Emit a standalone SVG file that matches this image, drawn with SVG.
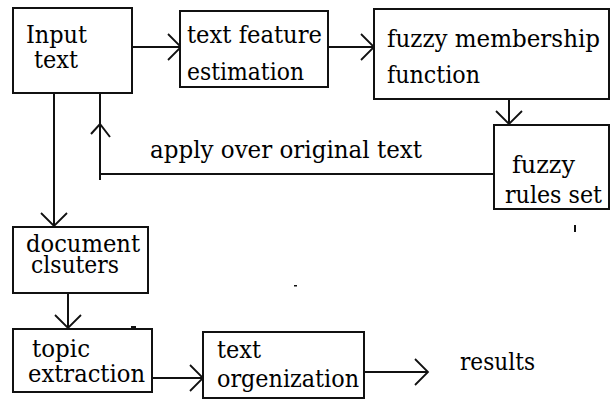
<svg xmlns="http://www.w3.org/2000/svg" width="610" height="400" viewBox="0 0 610 400">
<defs>
<style>
.box{fill:#fff;stroke:#111;stroke-width:2}
.t{font-family:'DejaVu Serif','Noto Serif',Tinos,'Liberation Serif',serif;font-size:24px;fill:#000}
.c{fill:none;stroke:#111;stroke-width:2}
</style>
<marker id="open" markerUnits="userSpaceOnUse" markerWidth="40" markerHeight="40" viewBox="-20 -20 40 40" refX="0" refY="0" orient="auto">
<path d="M-13,-13 L0,0 L-13,13" fill="none" stroke="#111" stroke-width="1.8"/>
</marker>
</defs>
<rect width="610" height="400" fill="#fff"/>
<g id="connectors">
<path class="c" d="M132,47 H181" marker-end="url(#open)"/>
<path class="c" d="M328,47 H374" marker-end="url(#open)"/>
<path class="c" d="M509,99 V124" marker-end="url(#open)"/>
<path class="c" d="M494,174 H100"/>
<path class="c" d="M100,180 V93"/>
<path class="c" d="M91,134 L100,124 L110,137" stroke-width="1.8"/>
<path class="c" d="M54,93 V226" marker-end="url(#open)"/>
<path class="c" d="M68,293 V328" marker-end="url(#open)"/>
<path class="c" d="M152,378 H203" marker-end="url(#open)"/>
<path class="c" d="M364,372 H428" marker-end="url(#open)"/>
<text class="t" x="150" y="158" textLength="272" lengthAdjust="spacingAndGlyphs">apply over original text</text>
</g>
<g id="input-text">
<rect class="box" x="13" y="8" width="119" height="85"/>
<text class="t" x="26" y="43" textLength="61" lengthAdjust="spacingAndGlyphs">Input</text>
<text class="t" x="34" y="68" textLength="44" lengthAdjust="spacingAndGlyphs">text</text>
</g>
<g id="text-feature-estimation">
<rect class="box" x="180" y="11" width="148" height="76"/>
<text class="t" x="187" y="43" textLength="135" lengthAdjust="spacingAndGlyphs">text feature</text>
<text class="t" x="187" y="80" textLength="117" lengthAdjust="spacingAndGlyphs">estimation</text>
</g>
<g id="fuzzy-membership-function">
<rect class="box" x="374" y="9" width="235" height="90"/>
<text class="t" x="387" y="47" textLength="213" lengthAdjust="spacingAndGlyphs">fuzzy membership</text>
<text class="t" x="387" y="83" textLength="93" lengthAdjust="spacingAndGlyphs">function</text>
</g>
<g id="fuzzy-rules-set">
<rect class="box" x="494" y="125" width="115" height="84"/>
<text class="t" x="512" y="173" textLength="63" lengthAdjust="spacingAndGlyphs">fuzzy</text>
<text class="t" x="505" y="203" textLength="97" lengthAdjust="spacingAndGlyphs">rules set</text>
</g>
<g id="document-clusters">
<rect class="box" x="13" y="227" width="135" height="66"/>
<text class="t" x="26" y="252" textLength="114" lengthAdjust="spacingAndGlyphs">document</text>
<text class="t" x="31" y="273" textLength="88" lengthAdjust="spacingAndGlyphs">clsuters</text>
</g>
<g id="topic-extraction">
<rect class="box" x="13" y="329" width="139" height="63"/>
<text class="t" x="32" y="357" textLength="58" lengthAdjust="spacingAndGlyphs">topic</text>
<text class="t" x="28" y="382" textLength="117" lengthAdjust="spacingAndGlyphs">extraction</text>
</g>
<g id="text-organization">
<rect class="box" x="203" y="332" width="161" height="66"/>
<text class="t" x="217" y="358" textLength="44" lengthAdjust="spacingAndGlyphs">text</text>
<text class="t" x="217" y="387" textLength="142" lengthAdjust="spacingAndGlyphs">orgenization</text>
</g>
<g id="results">
<text class="t" x="460" y="370" textLength="75" lengthAdjust="spacingAndGlyphs">results</text>
</g>
<g id="marks" fill="#111">
<rect x="131" y="326" width="5" height="2"/>
<rect x="294" y="285" width="3" height="1.5"/>
<rect x="574" y="225" width="2" height="7"/>
</g>
</svg>
